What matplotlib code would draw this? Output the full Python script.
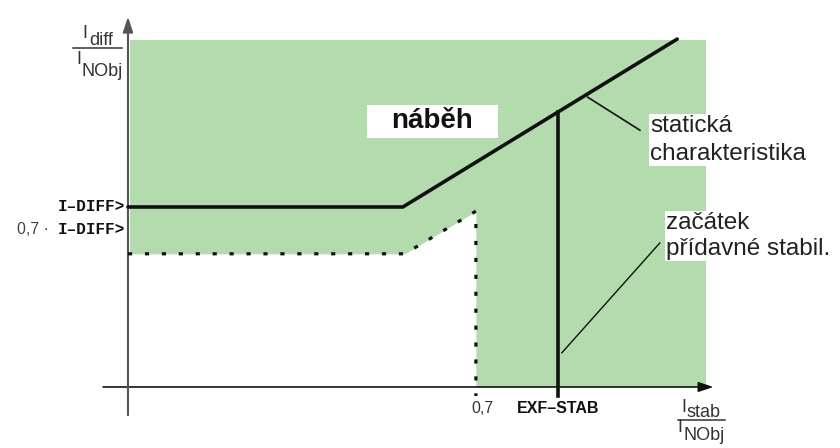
import numpy as np
import matplotlib.pyplot as plt
from matplotlib.patches import Rectangle

plt.rcParams['font.family'] = ['Liberation Sans', 'DejaVu Sans']

# characteristic data (per unit values)
i_diff = 0.30            # I-DIFF> pick-up value
add_level = 0.222        # 0,7 * I-DIFF> level as drawn
knee_x = 0.553           # end of horizontal part
slope = 0.507            # slope of the static characteristic
x_end = 1.105            # end of the drawn characteristic
exf_stab = 0.865         # EXF-STAB
add_stab_x = 0.70        # 0,7 on the stab axis
add_stab_knee = 0.557
add_stab_top = 0.293
green_w, green_h = 1.163, 0.578

char_x = [0, knee_x, x_end]
char_y = [i_diff, i_diff, i_diff + slope * (x_end - knee_x)]
dot_x = [0, add_stab_knee, add_stab_x, add_stab_x]
dot_y = [add_level, add_level, add_stab_top, -0.015]

fig = plt.figure(figsize=(8.4, 4.48), dpi=100)
ax = fig.add_axes([0, 0, 1, 1])
ax.set_xlim(-0.2575, 1.4326)
ax.set_ylim(-0.1017, 0.645)
ax.axis('off')


def P(x, y):
    # pixel position of the picture -> data coords
    return (x - 128) / 497.0, (387 - y) / 600.0


green = '#b3dbae'
ax.add_patch(Rectangle((0.004, 0), green_w - 0.004, green_h, color=green, lw=0, zorder=0))
ax.fill_between(dot_x[:3], 0, dot_y[:3], color='white', lw=0, zorder=1)

# axes with arrows
ax.annotate('', xy=(1.178, 0), xytext=(-0.05, 0),
            arrowprops=dict(arrowstyle='-|>,head_length=0.9,head_width=0.3', color='#111111', lw=1.2, shrinkA=0, shrinkB=0), zorder=3)
ax.annotate('', xy=(0, 0.617), xytext=(0, -0.047),
            arrowprops=dict(arrowstyle='-|>,head_length=0.9,head_width=0.3', color='#555555', lw=1.5, shrinkA=0, shrinkB=0), zorder=3)

ax.plot(char_x, char_y, color='#111111', lw=2.6, solid_capstyle='round', zorder=4)
ax.plot(dot_x, dot_y, color='#111111', lw=2.3, linestyle=(0, (1.3, 4.0)), zorder=4)
y_exf = i_diff + slope * (exf_stab - knee_x)
ax.plot([exf_stab, exf_stab], [-0.015, y_exf], color='#111111', lw=2.6, zorder=4)

# leader lines
ax.plot([0.925, 1.03], [0.483, 0.428], color='#111111', lw=1.2, zorder=4)
ax.plot([0.873, 1.07], [0.057, 0.24], color='#111111', lw=1.0, zorder=4)

# labels
mono = dict(family='Liberation Mono', fontweight='bold', fontsize=11.5, color='#111111')
ax.text(*P(125, 207), 'I\u2013DIFF>', ha='right', va='center', **mono)
ax.text(*P(125, 230), 'I\u2013DIFF>', ha='right', va='center', **mono)
ax.text(*P(49, 230), '0,7 \u00b7', ha='right', va='center', fontsize=11.5, color='#444444')
ax.text(*P(471, 409), '0,7', ha='left', va='center', fontsize=11.5, color='#333333')
ax.text(*P(558, 409), 'EXF\u2013STAB', ha='center', va='center', fontsize=11.5,
        fontweight='bold', color='#111111')


def fraction(y_bar, x0, x1, num_i, num_sub, den_i, den_sub, sub_text, n_i, n_sub, d_i, d_sub):
    # I_sub / I_NObj drawn by hand: raised "I" and large subscript
    ax.plot([P(x0, 0)[0], P(x1, 0)[0]], [P(0, y_bar)[1]] * 2, color='#333333', lw=1.1)
    ax.text(*P(num_i, y_bar - n_i), 'I', ha='center', va='baseline', fontsize=13, color='#333333')
    ax.text(*P(num_sub, y_bar - n_sub), sub_text, ha='left', va='baseline', fontsize=13, color='#333333')
    ax.text(*P(den_i, y_bar + d_i), 'I', ha='center', va='baseline', fontsize=13, color='#333333')
    ax.text(*P(den_sub, y_bar + d_sub), 'NObj', ha='left', va='baseline', fontsize=13, color='#333333')


fraction(48.5, 73, 122, 85, 89, 78.5, 82, 'diff', 10, 3.5, 16, 28)
fraction(420, 678, 725, 684, 687, 679.5, 684, 'stab', 8, 3, 12, 20)

nb_x0, nb_y0 = P(367, 138)
nb_x1, nb_y1 = P(498, 105)
ax.add_patch(Rectangle((nb_x0, nb_y0), nb_x1 - nb_x0, nb_y1 - nb_y0, fc='white', ec='none', zorder=5))
ax.text(*P(432, 121), 'náběh', ha='center', va='center', fontsize=20, fontweight='bold',
        color='#111111', zorder=6)
ax.text(*P(650, 140), 'statická\ncharakteristika', ha='left', va='center', fontsize=17.5,
        color='#222222', linespacing=1.3, zorder=5,
        bbox=dict(boxstyle='square,pad=0.05', fc='white', ec='none'))
ax.text(*P(666, 236), 'začátek\npřídavné stabil.', ha='left', va='center', fontsize=17.5,
        color='#222222', linespacing=1.25, zorder=5,
        bbox=dict(boxstyle='square,pad=0.05', fc='white', ec='none'))

fig.savefig('out.png', dpi=100, facecolor='white')
